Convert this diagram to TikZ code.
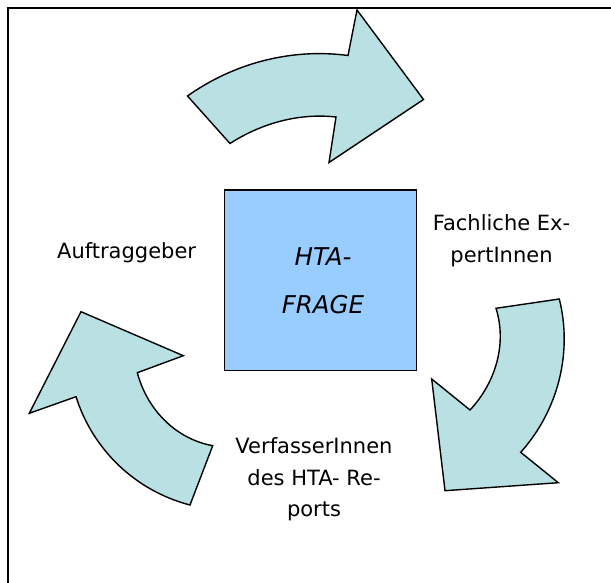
\documentclass[tikz,border=0pt]{standalone}
\usepackage{fontspec}
\setmainfont{DejaVu Sans}
\begin{document}
\begin{tikzpicture}[x=1bp,y=-1bp,
  cyclearrow/.style={draw=black,line width=1.4bp,fill=arrowfill,line join=miter},
  label/.style={font=\fontsize{21bp}{31.5bp}\selectfont,align=center,inner sep=0pt},
  centerbox/.style={draw=black,line width=1.4bp,fill=boxfill}]
\definecolor{arrowfill}{RGB}{185,224,227}
\definecolor{boxfill}{RGB}{153,204,255}
\useasboundingbox (0,0) rectangle (611,583);
\fill[white] (0,0) rectangle (611,583);

% open frame: left and top edges only
\draw[line width=1.8bp] (8,583) -- (8,8) -- (611,8);

% central question box
\node[centerbox,minimum width=192bp,minimum height=180bp,inner sep=0pt] (frage) at (320.6,280.2) {};
% base anchor of a multi-line node sits on its last line
\node[font=\fontsize{24.5bp}{48bp}\selectfont\itshape,align=center,inner sep=0pt,anchor=base] (fragetext) at (323,313) {HTA-\\FRAGE};

% top arrow (Auftraggeber -> Fachliche ExpertInnen)
\path[cyclearrow] (187.5,96) .. controls (234,63) and (291.5,48) .. (348,55.5)
  -- (357,10) -- (423.5,99.5) -- (329,162.5) -- (336,117)
  .. controls (298.7,112.9) and (261.5,123.2) .. (230,143.5) -- cycle;

% right arrow (Fachliche ExpertInnen -> VerfasserInnen)
\path[cyclearrow] (496,308.3) -- (559.3,299)
  .. controls (572.8,353.2) and (557.9,410.7) .. (520.7,452.3)
  -- (558.3,482.7) -- (445,490.7) -- (431.7,379) -- (470,410)
  .. controls (495.5,382.7) and (507.2,344) .. (496,308.3) -- cycle;

% left arrow (VerfasserInnen -> Auftraggeber)
\path[cyclearrow] (81,311.7) -- (183.3,355.7) -- (137.3,372.7)
  .. controls (147.1,409.4) and (175.3,438.8) .. (212.7,445.7)
  -- (190,505) .. controls (135.8,490.9) and (92.9,450.1) .. (76,396.7)
  -- (29.3,413.3) -- cycle;

% role labels
\node[label,anchor=base] (auftrag) at (126.6,258.4) {Auftraggeber};
\node[label,anchor=base] (experten) at (501.5,262) {Fachliche Ex-\\pertInnen};
\node[label,anchor=base] (verfasser) at (314,516.7) {VerfasserInnen\\des HTA- Re-\\ports};
\end{tikzpicture}
\end{document}
